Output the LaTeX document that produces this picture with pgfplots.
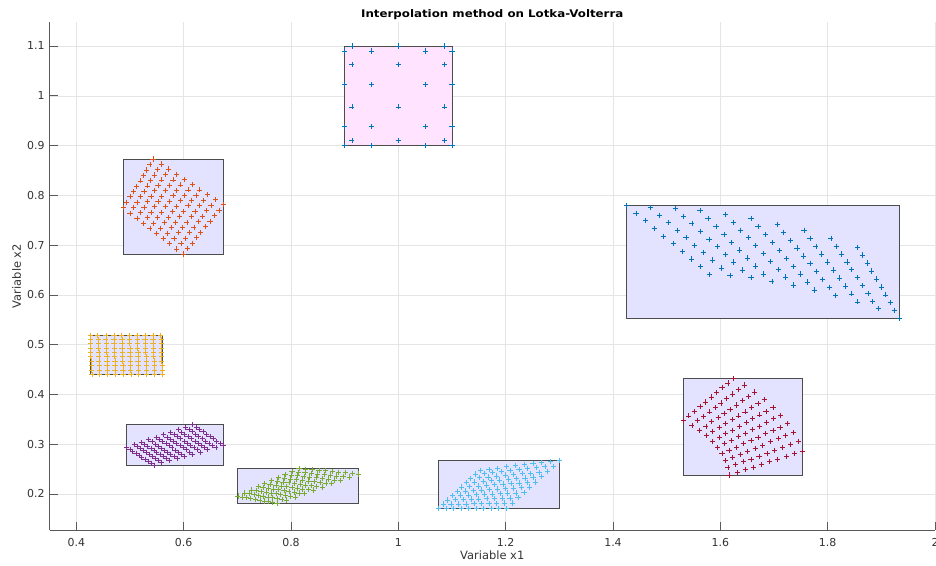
\documentclass[border=0pt]{standalone}
\usepackage{fontspec}
\setmainfont{DejaVu Sans}
\usepackage{graphicx}
\usepackage{pgfplots}
\pgfplotsset{compat=1.18}
\definecolor{cA}{HTML}{0072BD}
\definecolor{cB}{HTML}{D95319}
\definecolor{cC}{HTML}{EDB120}
\definecolor{cD}{HTML}{7E2F8E}
\definecolor{cE}{HTML}{77AC30}
\definecolor{cF}{HTML}{4DBEEE}
\definecolor{cG}{HTML}{A2142F}
\definecolor{boxfill}{HTML}{E3E3FF}
\definecolor{padfill}{HTML}{FFE3FF}
\begin{document}
\begin{tikzpicture}
\begin{axis}[
  name=ax, scale only axis, width=885.5bp, height=508bp,
  xmin=0.35, xmax=2, ymin=0.1277, ymax=1.1482,
  xtick={0.4,0.6,0.8,1,1.2,1.4,1.6,1.8,2},
  xticklabels={0.4,0.6,0.8,1,1.2,1.4,1.6,1.8,2},
  ytick={0.2,0.3,0.4,0.5,0.6,0.7,0.8,0.9,1,1.1},
  yticklabels={0.2,0.3,0.4,0.5,0.6,0.7,0.8,0.9,1,1.1},
  axis x line*=bottom, axis y line*=left,
  tick align=inside, major tick length=8.5bp,
  grid=major, grid style={black!10, line width=0.5bp},
  axis line style={black!65, line width=0.6bp},
  tick style={black!65, line width=0.6bp},
  tick label style={font=\fontsize{11}{13}\selectfont, text=black!80},
  xticklabel style={yshift=-4.5bp},
  yticklabel style={xshift=-1.5bp},
  xlabel={Variable x1}, ylabel={Variable x2},
  xlabel style={at={(axis description cs:0.5,-0.0571)}, anchor=base, font=\fontsize{11.5}{13}\selectfont, text=black!80},
  ylabel style={at={(axis description cs:-0.0322,0.5)}, anchor=base, font=\fontsize{11.5}{13}\selectfont, text=black!80},
  every axis title shift=0pt,
  title={\scalebox{1.13}[1]{Interpolation method on Lotka-Volterra}},
  title style={at={(axis description cs:0.5,1.0093)}, anchor=base, font=\bfseries\fontsize{10.5}{12}\selectfont},
  every axis plot/.append style={line width=0.7bp},
  mark size=2.6bp,
]
% ---- boxes ----
\addplot[draw=black!70, line width=0.8bp, fill=padfill] coordinates {(0.9,0.9)(1.1,0.9)(1.1,1.1)(0.9,1.1)} -- cycle;
\addplot[draw=black!70, line width=0.8bp, fill=boxfill] coordinates {(0.488,0.682)(0.674,0.682)(0.674,0.873)(0.488,0.873)} -- cycle;
\addplot[draw=black!70, line width=0.8bp, fill=boxfill] coordinates {(0.426,0.440)(0.560,0.440)(0.560,0.519)(0.426,0.519)} -- cycle;
\addplot[draw=black!70, line width=0.8bp, fill=boxfill] coordinates {(0.494,0.258)(0.674,0.258)(0.674,0.339)(0.494,0.339)} -- cycle;
\addplot[draw=black!70, line width=0.8bp, fill=boxfill] coordinates {(0.701,0.181)(0.926,0.181)(0.926,0.252)(0.701,0.252)} -- cycle;
\addplot[draw=black!70, line width=0.8bp, fill=boxfill] coordinates {(1.075,0.171)(1.300,0.171)(1.300,0.267)(1.075,0.267)} -- cycle;
\addplot[draw=black!70, line width=0.8bp, fill=boxfill] coordinates {(1.531,0.238)(1.753,0.238)(1.753,0.432)(1.531,0.432)} -- cycle;
\addplot[draw=black!70, line width=0.8bp, fill=boxfill] coordinates {(1.425,0.553)(1.934,0.553)(1.934,0.779)(1.425,0.779)} -- cycle;
% ---- Padua points ----
\addplot[only marks, mark=+, color=cA] coordinates {
(1.0866,1.1)(1.0,1.1)(0.9134,1.1)
(1.1,1.0901)(1.05,1.0901)(0.95,1.0901)(0.9,1.0901)
(1.0866,1.0623)(1.0,1.0623)(0.9134,1.0623)
(1.1,1.0223)(1.05,1.0223)(0.95,1.0223)(0.9,1.0223)
(1.0866,0.9777)(1.0,0.9777)(0.9134,0.9777)
(1.1,0.9377)(1.05,0.9377)(0.95,0.9377)(0.9,0.9377)
(1.0866,0.9099)(1.0,0.9099)(0.9134,0.9099)
(1.1,0.9)(1.05,0.9)(0.95,0.9)(0.9,0.9)};
% ---- red ----
\addplot[only marks, mark=+, color=cB] coordinates {
(0.543,0.873)(0.558,0.863)(0.572,0.853)(0.587,0.842)(0.601,0.832)(0.616,0.822)(0.630,0.811)(0.645,0.801)(0.659,0.791)(0.674,0.781)
(0.537,0.862)(0.551,0.852)(0.566,0.842)(0.580,0.831)(0.594,0.821)(0.608,0.811)(0.623,0.800)(0.637,0.790)(0.651,0.780)(0.666,0.770)
(0.531,0.851)(0.545,0.841)(0.559,0.831)(0.573,0.820)(0.587,0.810)(0.601,0.800)(0.615,0.790)(0.629,0.779)(0.643,0.769)(0.657,0.759)
(0.525,0.840)(0.538,0.830)(0.552,0.820)(0.566,0.809)(0.580,0.799)(0.594,0.789)(0.608,0.779)(0.621,0.768)(0.635,0.758)(0.649,0.748)
(0.519,0.829)(0.532,0.819)(0.546,0.809)(0.559,0.798)(0.573,0.788)(0.586,0.778)(0.600,0.768)(0.614,0.757)(0.627,0.747)(0.641,0.737)
(0.512,0.818)(0.526,0.808)(0.539,0.798)(0.552,0.788)(0.566,0.777)(0.579,0.767)(0.592,0.757)(0.606,0.746)(0.619,0.736)(0.632,0.726)
(0.506,0.807)(0.519,0.797)(0.532,0.787)(0.545,0.777)(0.559,0.766)(0.572,0.756)(0.585,0.746)(0.598,0.736)(0.611,0.725)(0.624,0.715)
(0.500,0.797)(0.513,0.786)(0.526,0.776)(0.539,0.766)(0.551,0.755)(0.564,0.745)(0.577,0.735)(0.590,0.725)(0.603,0.714)(0.616,0.704)
(0.494,0.786)(0.507,0.775)(0.519,0.765)(0.532,0.755)(0.544,0.744)(0.557,0.734)(0.570,0.724)(0.582,0.714)(0.595,0.703)(0.607,0.693)
(0.488,0.775)(0.500,0.764)(0.513,0.754)(0.525,0.744)(0.537,0.733)(0.550,0.723)(0.562,0.713)(0.574,0.703)(0.587,0.692)(0.599,0.682)};
% ---- yellow ----
\addplot[only marks, mark=+, color=cC] coordinates {
(0.429,0.440)(0.443,0.440)(0.458,0.440)(0.473,0.440)(0.487,0.440)(0.502,0.440)(0.516,0.440)(0.531,0.440)(0.546,0.440)(0.560,0.440)
(0.428,0.449)(0.443,0.449)(0.458,0.449)(0.472,0.449)(0.487,0.449)(0.501,0.449)(0.516,0.449)(0.531,0.449)(0.545,0.449)(0.560,0.449)
(0.428,0.458)(0.443,0.458)(0.457,0.458)(0.472,0.458)(0.487,0.458)(0.501,0.458)(0.516,0.458)(0.530,0.458)(0.545,0.458)(0.560,0.458)
(0.428,0.467)(0.442,0.467)(0.457,0.467)(0.472,0.467)(0.486,0.467)(0.501,0.467)(0.515,0.467)(0.530,0.467)(0.545,0.467)(0.559,0.467)
(0.427,0.476)(0.442,0.476)(0.457,0.476)(0.471,0.476)(0.486,0.476)(0.500,0.476)(0.515,0.476)(0.530,0.476)(0.544,0.476)(0.559,0.476)
(0.427,0.484)(0.442,0.484)(0.456,0.484)(0.471,0.484)(0.486,0.484)(0.500,0.484)(0.515,0.484)(0.529,0.484)(0.544,0.484)(0.559,0.484)
(0.427,0.493)(0.441,0.493)(0.456,0.493)(0.471,0.493)(0.485,0.493)(0.500,0.493)(0.514,0.493)(0.529,0.493)(0.544,0.493)(0.558,0.493)
(0.426,0.502)(0.441,0.502)(0.456,0.502)(0.470,0.502)(0.485,0.502)(0.499,0.502)(0.514,0.502)(0.529,0.502)(0.543,0.502)(0.558,0.502)
(0.426,0.511)(0.441,0.511)(0.455,0.511)(0.470,0.511)(0.485,0.511)(0.499,0.511)(0.514,0.511)(0.528,0.511)(0.543,0.511)(0.558,0.511)
(0.426,0.519)(0.440,0.519)(0.455,0.519)(0.470,0.519)(0.484,0.519)(0.499,0.519)(0.513,0.519)(0.528,0.519)(0.543,0.519)(0.557,0.519)};
% ---- purple ----
\addplot[only marks, mark=+, color=cD] coordinates {
(0.494,0.294)(0.500,0.290)(0.505,0.286)(0.511,0.282)(0.517,0.278)(0.522,0.274)(0.528,0.270)(0.534,0.266)(0.539,0.262)(0.545,0.258)
(0.508,0.299)(0.513,0.295)(0.519,0.291)(0.525,0.287)(0.531,0.283)(0.536,0.279)(0.542,0.275)(0.548,0.271)(0.553,0.267)(0.559,0.263)
(0.521,0.304)(0.527,0.300)(0.533,0.296)(0.539,0.292)(0.545,0.287)(0.550,0.283)(0.556,0.279)(0.562,0.275)(0.568,0.271)(0.574,0.267)
(0.535,0.309)(0.541,0.305)(0.547,0.300)(0.553,0.296)(0.559,0.292)(0.564,0.288)(0.570,0.284)(0.576,0.280)(0.582,0.275)(0.588,0.271)
(0.549,0.314)(0.555,0.310)(0.561,0.305)(0.567,0.301)(0.573,0.297)(0.578,0.293)(0.584,0.288)(0.590,0.284)(0.596,0.280)(0.602,0.276)
(0.563,0.319)(0.569,0.314)(0.575,0.310)(0.581,0.306)(0.587,0.302)(0.593,0.297)(0.599,0.293)(0.605,0.289)(0.611,0.284)(0.617,0.280)
(0.576,0.324)(0.582,0.319)(0.588,0.315)(0.594,0.311)(0.601,0.306)(0.607,0.302)(0.613,0.297)(0.619,0.293)(0.625,0.289)(0.631,0.284)
(0.590,0.329)(0.596,0.324)(0.602,0.320)(0.608,0.315)(0.614,0.311)(0.621,0.306)(0.627,0.302)(0.633,0.297)(0.639,0.293)(0.645,0.289)
(0.604,0.334)(0.610,0.329)(0.616,0.325)(0.622,0.320)(0.628,0.316)(0.635,0.311)(0.641,0.306)(0.647,0.302)(0.653,0.297)(0.660,0.293)
(0.617,0.339)(0.624,0.334)(0.630,0.329)(0.636,0.325)(0.642,0.320)(0.649,0.316)(0.655,0.311)(0.661,0.306)(0.668,0.302)(0.674,0.297)};
% ---- green ----
\addplot[only marks, mark=+, color=cE] coordinates {
(0.701,0.196)(0.709,0.194)(0.717,0.193)(0.725,0.191)(0.734,0.189)(0.742,0.188)(0.750,0.186)(0.758,0.185)(0.766,0.183)(0.774,0.181)
(0.714,0.202)(0.722,0.201)(0.731,0.199)(0.740,0.197)(0.748,0.196)(0.757,0.194)(0.765,0.193)(0.774,0.191)(0.783,0.189)(0.791,0.188)
(0.726,0.208)(0.735,0.207)(0.744,0.205)(0.754,0.204)(0.763,0.202)(0.772,0.201)(0.781,0.199)(0.790,0.198)(0.799,0.196)(0.808,0.194)
(0.739,0.215)(0.748,0.213)(0.758,0.212)(0.768,0.210)(0.777,0.209)(0.787,0.207)(0.796,0.205)(0.806,0.204)(0.815,0.202)(0.825,0.201)
(0.751,0.221)(0.761,0.219)(0.772,0.218)(0.782,0.216)(0.792,0.215)(0.802,0.213)(0.812,0.212)(0.822,0.210)(0.832,0.209)(0.842,0.208)
(0.764,0.227)(0.775,0.226)(0.785,0.224)(0.796,0.223)(0.806,0.221)(0.817,0.220)(0.827,0.218)(0.838,0.217)(0.848,0.215)(0.859,0.214)
(0.777,0.233)(0.788,0.232)(0.799,0.230)(0.810,0.229)(0.821,0.228)(0.832,0.226)(0.843,0.225)(0.854,0.223)(0.865,0.222)(0.876,0.221)
(0.789,0.239)(0.801,0.238)(0.812,0.237)(0.824,0.235)(0.835,0.234)(0.847,0.233)(0.858,0.231)(0.870,0.230)(0.881,0.228)(0.892,0.227)
(0.802,0.245)(0.814,0.244)(0.826,0.243)(0.838,0.242)(0.850,0.240)(0.862,0.239)(0.874,0.238)(0.885,0.236)(0.897,0.235)(0.909,0.234)
(0.815,0.252)(0.827,0.250)(0.839,0.249)(0.852,0.248)(0.864,0.247)(0.877,0.245)(0.889,0.244)(0.901,0.243)(0.914,0.242)(0.926,0.240)};
% ---- light blue ----
\addplot[only marks, mark=+, color=cF] coordinates {
(1.075,0.171)(1.089,0.171)(1.103,0.171)(1.117,0.171)(1.131,0.171)(1.145,0.171)(1.159,0.171)(1.173,0.171)(1.187,0.171)(1.201,0.171)
(1.084,0.180)(1.098,0.180)(1.112,0.180)(1.126,0.180)(1.141,0.181)(1.155,0.181)(1.169,0.181)(1.183,0.181)(1.198,0.182)(1.212,0.182)
(1.092,0.188)(1.107,0.189)(1.121,0.189)(1.136,0.190)(1.150,0.190)(1.165,0.191)(1.179,0.191)(1.194,0.192)(1.208,0.192)(1.223,0.193)
(1.101,0.197)(1.116,0.198)(1.131,0.198)(1.145,0.199)(1.160,0.200)(1.175,0.200)(1.190,0.201)(1.204,0.202)(1.219,0.202)(1.234,0.203)
(1.110,0.205)(1.125,0.206)(1.140,0.207)(1.155,0.208)(1.170,0.209)(1.185,0.210)(1.200,0.211)(1.215,0.212)(1.230,0.213)(1.245,0.214)
(1.118,0.214)(1.133,0.215)(1.149,0.216)(1.164,0.218)(1.179,0.219)(1.195,0.220)(1.210,0.221)(1.225,0.222)(1.241,0.223)(1.256,0.224)
(1.127,0.223)(1.142,0.224)(1.158,0.225)(1.174,0.227)(1.189,0.228)(1.205,0.230)(1.220,0.231)(1.236,0.232)(1.251,0.234)(1.267,0.235)
(1.135,0.231)(1.151,0.233)(1.167,0.234)(1.183,0.236)(1.199,0.238)(1.215,0.239)(1.231,0.241)(1.246,0.242)(1.262,0.244)(1.278,0.246)
(1.144,0.240)(1.160,0.241)(1.176,0.243)(1.192,0.245)(1.208,0.247)(1.225,0.249)(1.241,0.251)(1.257,0.253)(1.273,0.255)(1.289,0.256)
(1.153,0.248)(1.169,0.250)(1.185,0.252)(1.202,0.255)(1.218,0.257)(1.235,0.259)(1.251,0.261)(1.267,0.263)(1.284,0.265)(1.300,0.267)};
% ---- maroon ----
\addplot[only marks, mark=+, color=cG] coordinates {
(1.624,0.432)(1.645,0.419)(1.664,0.405)(1.682,0.390)(1.698,0.374)(1.712,0.358)(1.725,0.341)(1.736,0.323)(1.745,0.305)(1.753,0.286)
(1.614,0.423)(1.634,0.410)(1.653,0.396)(1.670,0.382)(1.685,0.366)(1.699,0.351)(1.711,0.334)(1.722,0.317)(1.731,0.299)(1.738,0.281)
(1.603,0.414)(1.623,0.401)(1.641,0.388)(1.658,0.374)(1.673,0.359)(1.686,0.344)(1.698,0.328)(1.708,0.311)(1.716,0.294)(1.723,0.276)
(1.593,0.404)(1.612,0.392)(1.630,0.379)(1.646,0.365)(1.660,0.351)(1.673,0.336)(1.684,0.321)(1.693,0.305)(1.701,0.288)(1.707,0.270)
(1.583,0.395)(1.601,0.383)(1.618,0.370)(1.634,0.357)(1.648,0.344)(1.660,0.329)(1.670,0.314)(1.679,0.298)(1.687,0.282)(1.692,0.265)
(1.572,0.385)(1.591,0.374)(1.607,0.362)(1.622,0.349)(1.635,0.336)(1.647,0.322)(1.657,0.307)(1.665,0.292)(1.672,0.276)(1.677,0.260)
(1.562,0.376)(1.580,0.365)(1.596,0.353)(1.610,0.341)(1.623,0.328)(1.634,0.315)(1.643,0.301)(1.651,0.286)(1.657,0.270)(1.662,0.254)
(1.552,0.366)(1.569,0.356)(1.584,0.345)(1.598,0.333)(1.610,0.321)(1.621,0.308)(1.630,0.294)(1.637,0.280)(1.643,0.265)(1.647,0.249)
(1.541,0.357)(1.558,0.347)(1.573,0.336)(1.586,0.325)(1.598,0.313)(1.608,0.301)(1.616,0.287)(1.623,0.273)(1.628,0.259)(1.632,0.244)
(1.531,0.347)(1.547,0.338)(1.561,0.328)(1.574,0.317)(1.585,0.305)(1.595,0.293)(1.603,0.281)(1.609,0.267)(1.614,0.253)(1.616,0.238)};
% ---- blue (large) ----
\addplot[only marks, mark=+, color=cA] coordinates {
(1.425,0.779)(1.443,0.764)(1.460,0.749)(1.477,0.733)(1.494,0.718)(1.512,0.703)(1.529,0.687)(1.546,0.672)(1.563,0.657)(1.580,0.641)
(1.470,0.775)(1.487,0.760)(1.503,0.745)(1.520,0.730)(1.536,0.715)(1.552,0.700)(1.569,0.685)(1.585,0.670)(1.602,0.654)(1.618,0.639)
(1.516,0.774)(1.532,0.758)(1.547,0.743)(1.563,0.728)(1.579,0.712)(1.594,0.697)(1.610,0.681)(1.625,0.666)(1.641,0.650)(1.657,0.635)
(1.562,0.769)(1.577,0.753)(1.592,0.737)(1.607,0.721)(1.621,0.705)(1.636,0.690)(1.651,0.674)(1.666,0.658)(1.681,0.642)(1.696,0.627)
(1.610,0.762)(1.624,0.746)(1.638,0.730)(1.652,0.715)(1.666,0.699)(1.680,0.683)(1.694,0.667)(1.708,0.651)(1.722,0.636)(1.736,0.620)
(1.657,0.753)(1.670,0.737)(1.684,0.721)(1.697,0.705)(1.710,0.689)(1.723,0.673)(1.736,0.657)(1.749,0.642)(1.762,0.626)(1.775,0.610)
(1.706,0.742)(1.718,0.726)(1.730,0.710)(1.743,0.694)(1.755,0.678)(1.767,0.663)(1.779,0.647)(1.791,0.631)(1.803,0.615)(1.815,0.599)
(1.756,0.730)(1.767,0.714)(1.778,0.698)(1.789,0.682)(1.800,0.666)(1.811,0.650)(1.822,0.634)(1.833,0.618)(1.844,0.602)(1.855,0.586)
(1.806,0.714)(1.816,0.698)(1.826,0.682)(1.836,0.666)(1.845,0.651)(1.855,0.635)(1.865,0.619)(1.875,0.603)(1.884,0.587)(1.894,0.572)
(1.856,0.696)(1.865,0.680)(1.874,0.664)(1.882,0.648)(1.891,0.632)(1.900,0.616)(1.908,0.600)(1.917,0.585)(1.925,0.569)(1.934,0.553)};
\end{axis}
\pgfresetboundingbox
\path[use as bounding box] ([xshift=-49.5bp,yshift=-36bp]ax.south west) rectangle ([xshift=1bp,yshift=22bp]ax.north east);
\end{tikzpicture}
\end{document}
